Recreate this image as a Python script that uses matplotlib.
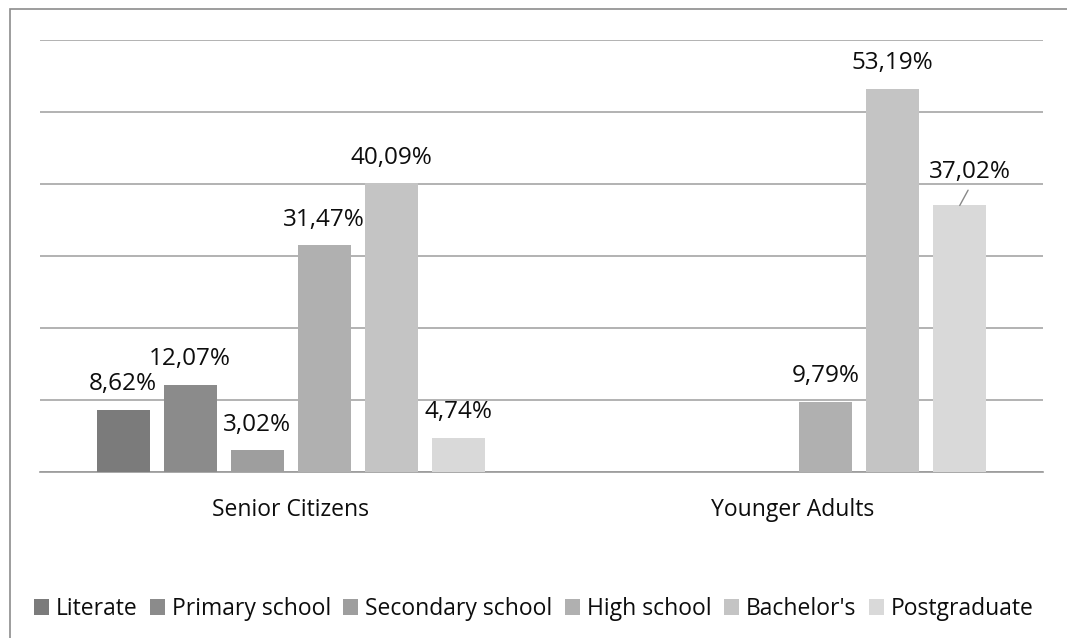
import numpy as np
import matplotlib.pyplot as plt
from matplotlib.patches import Rectangle

plt.rcParams['font.family'] = ['Open Sans', 'DejaVu Sans']

groups = ['Senior Citizens', 'Younger Adults']
levels = ['Literate', 'Primary school', 'Secondary school', 'High school', "Bachelor's", 'Postgraduate']
senior = [8.62, 12.07, 3.02, 31.47, 40.09, 4.74]
younger = [0, 0, 0, 9.79, 53.19, 37.02]
colors = ['#7b7b7b', '#8b8b8b', '#9e9e9e', '#b0b0b0', '#c4c4c4', '#d9d9d9']
ink = '#0d0d0d'

fig = plt.figure(figsize=(10.67, 6.38), dpi=100)
ax = fig.add_axes([40 / 1067, 1 - 472 / 638, 1003 / 1067, 432 / 638])

x = np.arange(len(groups))
step = 0.1336
width = 0.106
values = np.array([senior, younger])

for i, lvl in enumerate(levels):
    pos = x + (i - 2.5) * step
    vals = values[:, i]
    ax.bar(pos, vals, width, color=colors[i], label=lvl, zorder=3)
    for p, v in zip(pos, vals):
        if v <= 0:
            continue
        txt = f'{v:.2f}%'.replace('.', ',')
        if lvl == 'Postgraduate' and p > 0.5:
            # moved label with a leader line
            ax.annotate(txt, (p, v), xytext=(7, 24), textcoords='offset points',
                        ha='center', va='center', fontsize=17.5, color=ink)
            ax.annotate('', (p, v), xytext=(6, 11), textcoords='offset points',
                        arrowprops=dict(arrowstyle='-', color='#888888', lw=1,
                                        shrinkA=0, shrinkB=0))
        else:
            ax.annotate(txt, (p, v), xytext=(0, 18.5), textcoords='offset points',
                        ha='center', va='center', fontsize=17.5, color=ink)

ax.set_xlim(-0.5, 1.5)
ax.set_ylim(0, 60)
ax.set_yticks(np.arange(0, 61, 10))
ax.yaxis.grid(True, color='#a6a6a6', lw=1.2, zorder=0)
ax.set_yticklabels([])
ax.set_xticks(x)
ax.set_xticklabels(groups, fontsize=16.5, color=ink)
ax.tick_params(length=0, pad=19)
for s in ['top', 'right', 'left']:
    ax.spines[s].set_visible(False)
ax.spines['bottom'].set_color('#9a9a9a')
ax.spines['bottom'].set_linewidth(1.2)

fig.legend(loc='center', bbox_to_anchor=(0.5, 1 - 609 / 638), ncol=6, frameon=False,
           fontsize=16.5, handlelength=0.65, handleheight=0.65, handletextpad=0.3,
           columnspacing=0.55, labelcolor=ink)

# outer chart frame
fig.patches.append(Rectangle((10 / 1067, -0.1), 1.2, 1 - 9 / 638 + 0.1, transform=fig.transFigure,
                             fill=False, edgecolor='#8c8c8c', lw=1.2))

fig.savefig('out.png', dpi=100)
